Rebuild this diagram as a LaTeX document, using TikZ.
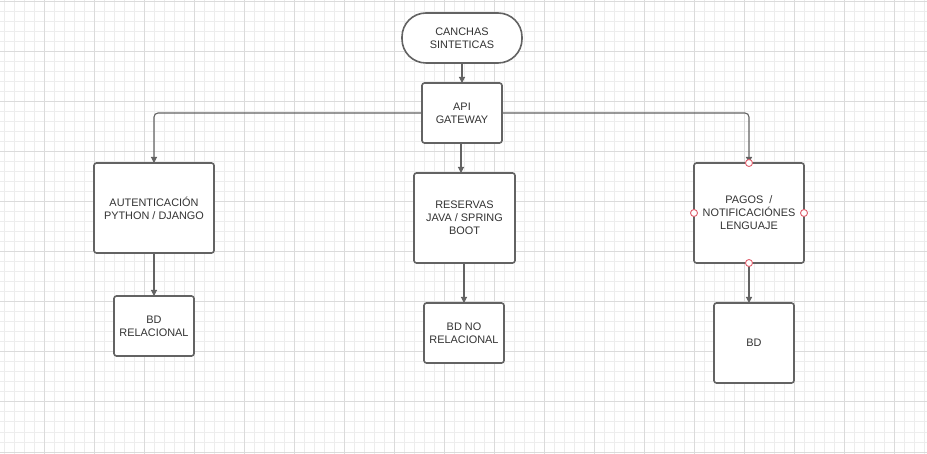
\documentclass[tikz,border=0pt]{standalone}
\usepackage{fontspec}
\setmainfont{Liberation Sans}
\usetikzlibrary{arrows.meta}
\definecolor{gridminor}{HTML}{EDEDED}
\definecolor{gridmajor}{HTML}{DBDBDB}
\definecolor{boxline}{HTML}{636363}
\definecolor{txt}{HTML}{333333}
\definecolor{portred}{HTML}{E0606E}
\begin{document}
\begin{tikzpicture}[x=1pt,y=-1pt,
  minorline/.style={draw=gridminor,line width=1pt},
  majorline/.style={draw=gridmajor,line width=1pt},
  box/.style={draw=boxline,line width=1.6pt,rounded corners=2.5pt,fill=white,
    align=center,text=txt,inner sep=0pt,outer sep=0pt,
    font=\fontsize{10.9}{13}\selectfont},
  terminal/.style={box,rounded corners=24pt},
  conn/.style={draw=boxline,line width=1.1pt,rounded corners=4pt,
    -{Triangle[length=6pt,width=6pt]}},
  port/.style={circle,draw=portred,fill=white,line width=0.9pt,
    minimum size=7pt,inner sep=0pt}]
% canvas and grid
\useasboundingbox (0,0) rectangle (927,454);
\fill[white] (0,0) rectangle (927,454);
\foreach \x in {4,14,...,924} \draw[minorline] (\x,0) -- (\x,454);
\foreach \y in {2,12,...,452} \draw[minorline] (0,\y) -- (927,\y);
\foreach \x in {44,94,...,894} \draw[majorline] (\x,0) -- (\x,454);
\foreach \y in {2,52,...,452} \draw[majorline] (0,\y) -- (927,\y);

% connectors drawn first so boxes sit on top
\coordinate (hub) at (462,113);
\draw[conn] (hub) -| (154,163);
\draw[conn] (hub) -| (749,163);

% nodes
\node[terminal,minimum width=120pt,minimum height=50pt] (canchas) at (462,38) {CANCHAS\\SINTETICAS};
\node[box,minimum width=80pt,minimum height=60pt] (api) at (462,113) {API\\GATEWAY};
\node[box,minimum width=120pt,minimum height=90pt] (auth) at (154,208) {AUTENTICACIÓN\\PYTHON / DJANGO};
\node[box,minimum width=80pt,minimum height=60pt] (bdrel) at (154,326) {BD\\RELACIONAL};
\node[box,minimum width=101pt,minimum height=90pt] (res) at (464.5,218) {RESERVAS\\JAVA / SPRING\\BOOT};
\node[box,minimum width=80pt,minimum height=60pt] (bdnr) at (464,333) {BD NO\\RELACIONAL};
\node[box,minimum width=110pt,minimum height=100pt] (pay) at (749,213) {PAGOS~~/\\NOTIFICACIÓNES\\LENGUAJE};
\node[box,minimum width=80pt,minimum height=80pt] (bd) at (754,343) {BD};

% vertical connectors
\draw[conn] (canchas.south) -- (api.north);
\draw[conn] (api.south -| 461,0) -- (res.north -| 461,0);
\draw[conn] (auth.south) -- (bdrel.north);
\draw[conn] (res.south -| 464,0) -- (bdnr.north);
\draw[conn] (pay.south) -- (bd.north -| pay.south);

% connection points on the selected box
\node[port] (pn) at (pay.north) {};
\node[port] (pw) at (pay.west) {};
\node[port] (pe) at (pay.east) {};
\node[port] (ps) at (pay.south) {};
\end{tikzpicture}
\end{document}
